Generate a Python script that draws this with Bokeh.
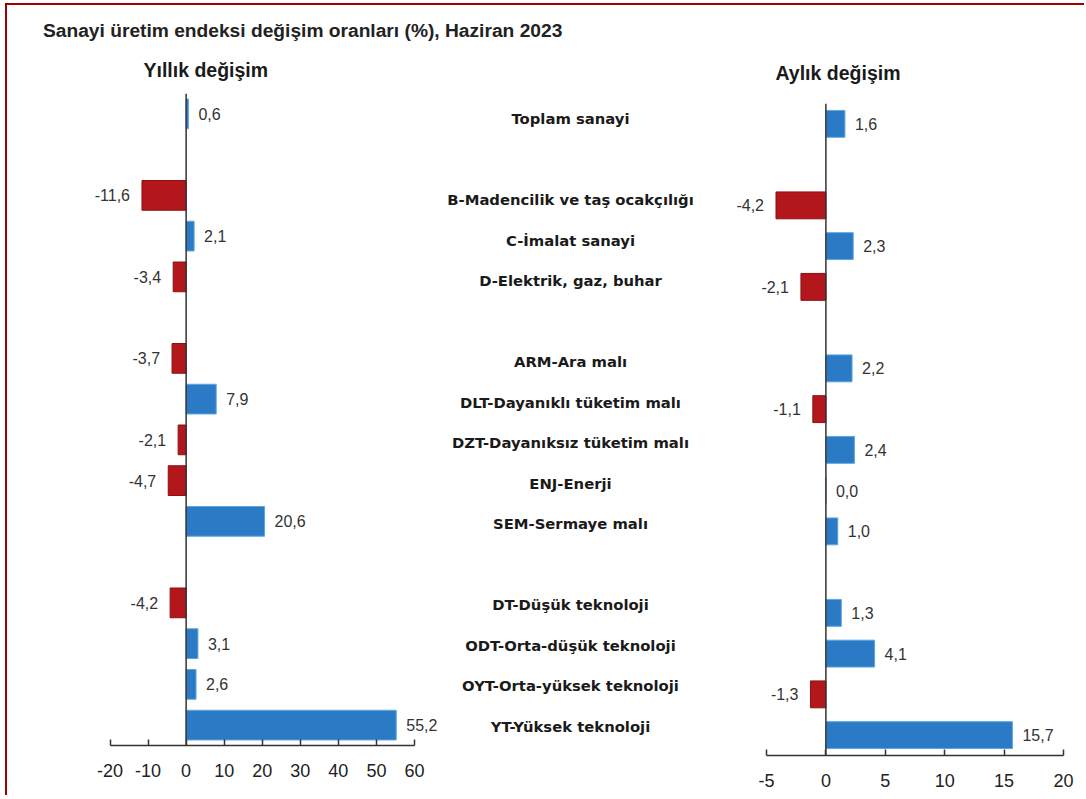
from bokeh.plotting import figure
from bokeh.models import FactorRange, Range1d, ColumnDataSource, Span, FixedTicker, Title, Div
from bokeh.layouts import row, column
from bokeh.embed import file_html
from bokeh.resources import INLINE
from bokeh.core.properties import value

# ---------------- data ----------------
title_text = "Sanayi üretim endeksi değişim oranları (%), Haziran 2023"
left_title = "Yıllık değişim"
right_title = "Aylık değişim"

groups = ["Toplam", "Sektörler", "Ana sanayi grupları", "Teknoloji"]
categories = [
    ["Toplam sanayi"],
    ["B-Madencilik ve taş ocakçılığı", "C-İmalat sanayi", "D-Elektrik, gaz, buhar"],
    ["ARM-Ara malı", "DLT-Dayanıklı tüketim malı", "DZT-Dayanıksız tüketim malı",
     "ENJ-Enerji", "SEM-Sermaye malı"],
    ["DT-Düşük teknoloji", "ODT-Orta-düşük teknoloji", "OYT-Orta-yüksek teknoloji",
     "YT-Yüksek teknoloji"],
]
yillik = [0.6, -11.6, 2.1, -3.4, -3.7, 7.9, -2.1, -4.7, 20.6, -4.2, 3.1, 2.6, 55.2]
aylik = [1.6, -4.2, 2.3, -2.1, 2.2, -1.1, 2.4, 0.0, 1.0, 1.3, 4.1, -1.3, 15.7]
left_ticks = [-20, -10, 0, 10, 20, 30, 40, 50, 60]
right_ticks = [-5, 0, 5, 10, 15, 20]

# ---------------- style / layout ----------------
BLUE, BLUE_LINE = "#2a7ac6", "#5ea6de"
RED, RED_LINE = "#b3161b", "#8c1013"
FONT = "Liberation Sans"
MID_FONT = "DejaVu Sans"
OX, OY = 7, 5          # page origin of the layout (inside the red frame)
TOP_B, BOT_B = 68, 42  # common borders (frames in a row are aligned)
ROW_TOP = 93 - TOP_B   # page y of the row of figures
H = 745 + BOT_B - ROW_TOP  # figure height

factors = [(g, c) for g, cats in zip(groups, categories) for c in cats]
cat_names = [c for cats in categories for c in cats]


def yrange():
    return FactorRange(factors=list(reversed(factors)), group_padding=1.0,
                       factor_padding=0.0, range_padding=0.0)


def make_source(vals):
    pos = [v >= 0 for v in vals]
    return ColumnDataSource(dict(
        y=factors,
        v=vals,
        lab=[f"{v:.1f}".replace(".", ",") for v in vals],
        fill=[BLUE if p else RED for p in pos],
        line=[BLUE_LINE if p else RED_LINE for p in pos],
        align=["left" if p else "right" for p in pos],
        xo=[10 if p else -12 for p in pos],
    ))


def panel(vals, ticks, fig_x, fig_w, frame_x, ax_px, shift, bar_h, title, title_x, title_standoff):
    v0, v1, p0, p1 = ax_px
    s = (p1 - p0) / (v1 - v0)
    xstart = v0 - (p0 - frame_x[0]) / s
    xend = v1 + (frame_x[1] - p1) / s
    p = figure(width=fig_w, height=H, x_range=Range1d(xstart, xend), y_range=yrange(),
               output_backend="svg", toolbar_location=None,
               x_axis_location="below", y_axis_location=None,
               min_border_left=int(round(frame_x[0] - fig_x)),
               min_border_right=int(round(fig_x + fig_w - frame_x[1])),
               min_border_top=TOP_B, min_border_bottom=BOT_B,
               margin=(shift, 0, 0, 0))
    p.outline_line_color = None
    p.xgrid.visible = False
    p.ygrid.visible = False
    p.background_fill_color = "white"
    p.border_fill_color = None

    p.title = Title(text=title, align="left", offset=title_x - frame_x[0],
                    text_font=FONT, text_font_size="19.5px", text_font_style="bold",
                    text_color="#1a1a1a", standoff=title_standoff)

    src = make_source(vals)
    p.hbar(y="y", left=0, right="v", height=bar_h, fill_color="fill", line_color="line",
           line_width=1, source=src)
    p.add_layout(Span(location=0, dimension="height", line_color="#333333", line_width=1.5))
    p.text(x="v", y="y", text="lab", text_align="align", x_offset="xo",
           text_baseline="middle", text_font=value(FONT), text_font_size="16px",
           text_color="#333333", source=src)

    ax = p.xaxis[0]
    ax.bounds = (v0, v1)
    ax.ticker = FixedTicker(ticks=ticks)
    ax.major_label_overrides = {t: str(t) for t in ticks}
    ax.major_tick_in = 6
    ax.major_tick_out = 0
    ax.minor_tick_in = 0
    ax.minor_tick_out = 0
    ax.axis_line_color = "#333333"
    ax.axis_line_width = 1.5
    ax.major_tick_line_color = "#333333"
    ax.major_tick_line_width = 1.5
    ax.major_label_text_font = FONT
    ax.major_label_text_font_size = "18px"
    ax.major_label_text_color = "#222222"
    ax.major_label_standoff = 18
    return p


left = panel(yillik, left_ticks, fig_x=OX, fig_w=440 - OX, frame_x=(40, 438),
             ax_px=(-20, 60, 109.5, 414), shift=0, bar_h=0.73,
             title=left_title, title_x=143, title_standoff=25)

right = panel(aylik, right_ticks, fig_x=700, fig_w=386, frame_x=(704, 1076),
              ax_px=(-5, 20, 766, 1063), shift=10, bar_h=0.66,
              title=right_title, title_x=775, title_standoff=40)

# middle: category names
mid = figure(width=260, height=H - 4, x_range=Range1d(-1, 1), y_range=yrange(),
             output_backend="svg", toolbar_location=None,
             x_axis_location=None, y_axis_location=None,
             min_border_left=0, min_border_right=0,
             min_border_top=TOP_B, min_border_bottom=BOT_B, margin=(5, 0, 0, 0))
mid.outline_line_color = None
mid.border_fill_color = None
mid.xgrid.visible = False
mid.ygrid.visible = False
msrc = ColumnDataSource(dict(y=factors, name=cat_names))
mid.text(x=0, y="y", text="name", text_align="center", text_baseline="middle",
         text_font=value(MID_FONT), text_font_size="14.8px", text_font_style="bold",
         text_color="#1a1a1a", source=msrc)

head = Div(text=f'<div style="padding:16px 0 0 {43 - OX}px; font-family:\'{FONT}\'; font-weight:bold; '
                f'font-size:19.2px; line-height:19px; color:#222; white-space:nowrap">{title_text}</div>',
           width=1086 - OX, height=ROW_TOP - OY, margin=0,
           styles={"overflow": "visible", "position": "relative", "z-index": "2"})

layout = column(head, row(left, mid, right, spacing=0), spacing=0,
                styles={"margin-left": f"{OX}px", "margin-top": f"{OY}px",
                        "box-shadow": "-2px -2px 0 0 #a00000", "background": "white"})

open("out.html", "w").write(file_html(layout, INLINE))
